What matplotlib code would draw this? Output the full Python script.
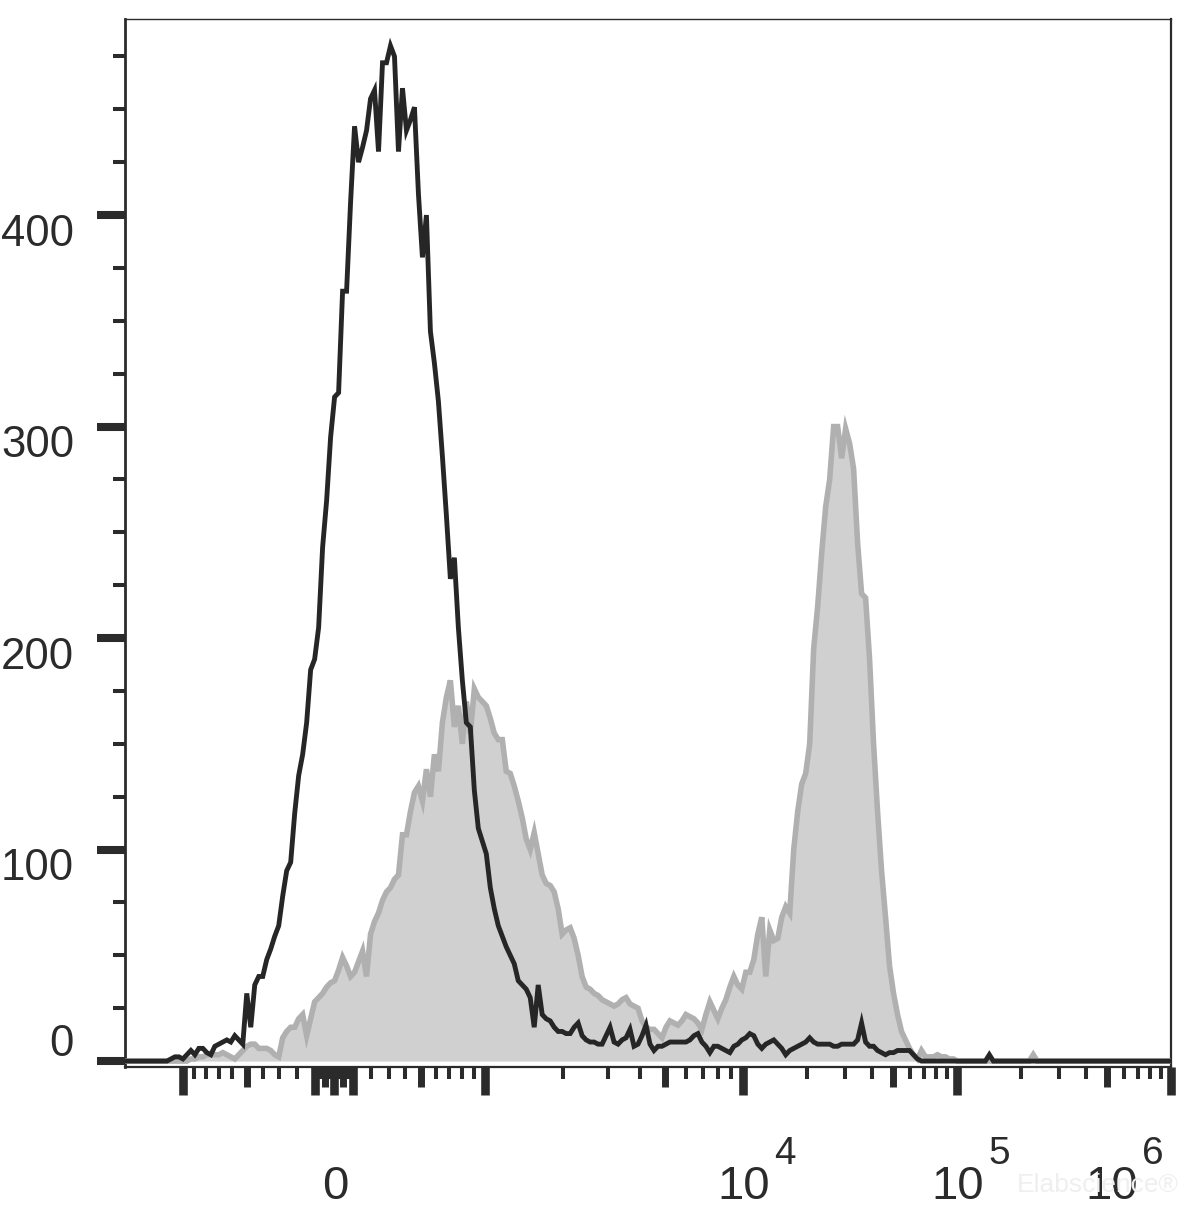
import numpy as np
import matplotlib
matplotlib.use("Agg")
import matplotlib.pyplot as plt
from matplotlib import markers

# ---------------- data (histogram counts per biexponential channel bin) ----------------
N_BINS = 262
X_MIN, X_MAX = -1678.0, 1.0e6
Y_MIN, Y_MAX = -2.8, 492.7

black_counts = [
    0, 0, 0, 0, 0, 0, 0, 0, 0, 0,
    0, 1, 2, 2, 1, 3, 5, 3, 6, 6,
    4, 3, 7, 8, 9, 10, 9, 12, 10, 8,
    32, 16, 36, 40, 40, 48, 53, 59, 64, 78,
    90, 94, 117, 135, 145, 160, 185, 190, 205, 243,
    265, 295, 314, 316, 364, 364, 406, 442, 425, 432,
    440, 455, 459, 430, 472, 472, 480, 475, 430, 460,
    440, 445, 451, 410, 380, 400, 345, 330, 312, 286,
    258, 228, 238, 205, 180, 160, 158, 128, 110, 104,
    98, 82, 72, 64, 59, 54, 50, 46, 38, 36,
    34, 30, 16, 36, 22, 20, 19, 16, 14, 14,
    13, 13, 16, 18, 12, 10, 9, 9, 8, 8,
    12, 16, 9, 8, 10, 11, 15, 7, 8, 12,
    17, 8, 5, 7, 7, 8, 9, 9, 9, 9,
    9, 10, 12, 13, 9, 7, 4, 7, 7, 6,
    5, 4, 7, 8, 10, 11, 13, 12, 8, 6,
    8, 9, 10, 8, 6, 3, 5, 6, 7, 8,
    9, 11, 9, 8, 8, 8, 8, 7, 7, 8,
    8, 8, 8, 10, 18, 9, 7, 7, 5, 4,
    3, 4, 4, 5, 5, 5, 5, 3, 1, 0,
    0, 0, 0, 0, 0, 0, 0, 0, 0, 0,
    0, 0, 0, 0, 0, 0, 3, 0, 0, 0,
    0, 0, 0, 0, 0, 0, 0, 0, 0, 0,
    0, 0, 0, 0, 0, 0, 0, 0, 0, 0,
    0, 0, 0, 0, 0, 0, 0, 0, 0, 0,
    0, 0, 0, 0, 0, 0, 0, 0, 0, 0,
    0, 0,
]
gray_counts = [
    0, 0, 0, 0, 0, 0, 0, 0, 0, 0,
    0, 0, 0, 0, 0, 0, 1, 1, 2, 2,
    3, 3, 3, 3, 4, 3, 2, 1, 3, 5,
    7, 8, 8, 6, 6, 6, 5, 3, 2, 11,
    14, 16, 16, 20, 22, 12, 20, 28, 30, 32,
    35, 37, 38, 43, 49, 45, 40, 42, 47, 52,
    40, 60, 66, 70, 76, 80, 82, 86, 88, 107,
    107, 118, 127, 130, 123, 138, 125, 145, 137, 160,
    172, 180, 158, 168, 150, 170, 155, 176, 172, 170,
    168, 162, 155, 152, 152, 137, 136, 130, 123, 115,
    105, 100, 108, 98, 88, 84, 83, 80, 72, 60,
    62, 63, 58, 50, 40, 35, 34, 32, 31, 29,
    28, 27, 26, 27, 29, 30, 27, 26, 25, 19,
    16, 15, 15, 13, 11, 16, 19, 18, 17, 19,
    22, 21, 20, 18, 15, 22, 28, 24, 20, 25,
    29, 35, 40, 36, 34, 42, 42, 48, 60, 68,
    40, 62, 57, 58, 68, 73, 70, 100, 118, 131,
    136, 150, 195, 215, 240, 262, 275, 300, 300, 285,
    299, 292, 280, 245, 221, 219, 190, 150, 118, 90,
    68, 45, 32, 22, 14, 10, 6, 3, 1, 5,
    2, 2, 2, 3, 2, 2, 1, 1, 0, 0,
    0, 0, 0, 0, 0, 0, 0, 0, 0, 0,
    0, 0, 0, 0, 0, 0, 0, 3, 0, 0,
    0, 0, 0, 0, 0, 0, 0, 0, 0, 0,
    0, 0, 0, 0, 0, 0, 0, 0, 0, 0,
    0, 0, 0, 0, 0, 0, 0, 0, 0, 0,
    0, 0,
]

y_major = [0, 100, 200, 300, 400]
y_labels = ["0", "100", "200", "300", "400"]
y_minor = [v for v in range(25, 491, 25) if v % 100 != 0]

x_long = [-1e3, -100, 0, 100, 1e3, 1e4, 1e5, 1e6]
x_medium = [-500, -50, 50, 500, 5e3, 5e4, 5e5]
x_minor = ([s * v for s in (1, -1) for v in (200, 300, 400, 600, 700, 800, 900)]
           + [s * v for s in (1, -1) for v in (10, 20, 30, 40, 60, 70, 80, 90)]
           + [m * 10 ** e for e in (3, 4, 5) for m in (2, 3, 4, 6, 7, 8, 9)])
x_label_vals = [0, 1e4, 1e5, 1e6]
x_label_exps = [None, "4", "5", "6"]

# ---------------- biexponential-like display transform ----------------
A_LIN, W_LIN = 129.5, 690.0
D0 = A_LIN * np.arcsinh(1e3 / W_LIN)
D1, D2 = 258.0, 214.0


def fwd(v):
    v = np.asarray(v, dtype=float)
    with np.errstate(all="ignore"):
        s = np.sign(v)
        m = np.abs(v)
        mm = np.maximum(m, 1e-12)
        out = np.where(m <= 1e3, A_LIN * np.arcsinh(m / W_LIN),
                       np.where(m <= 1e4, D0 + D1 * np.log10(mm / 1e3),
                                D0 + D1 + D2 * np.log10(mm / 1e4)))
    return s * out


def inv(d):
    d = np.asarray(d, dtype=float)
    with np.errstate(all="ignore"):
        s = np.sign(d)
        m = np.abs(d)
        mc = np.minimum(m, 5000)
        out = np.where(m <= D0, W_LIN * np.sinh(np.minimum(m, 2000) / A_LIN),
                       np.where(m <= D0 + D1, 1e3 * 10 ** ((mc - D0) / D1),
                                1e4 * 10 ** ((mc - D0 - D1) / D2)))
    return s * out


d_lo, d_hi = float(fwd(X_MIN)), float(fwd(X_MAX))
edges = np.linspace(d_lo, d_hi, N_BINS + 1)
x_centers = inv(0.5 * (edges[:-1] + edges[1:]))

# ---------------- style ----------------
FONT = "Liberation Sans"
FS_Y = 31.5
FS_X = 34
INK = "#2b2b2b"

fig = plt.figure(figsize=(12, 12.23), dpi=100)
ax = fig.add_axes([125 / 1200, 156 / 1223, 1046 / 1200, 1048 / 1223])
ax.set_xscale("function", functions=(fwd, inv))
ax.set_xlim(X_MIN, X_MAX)
ax.set_ylim(Y_MIN, Y_MAX)

# histograms
g = np.array(gray_counts, dtype=float)
b = np.array(black_counts, dtype=float)
ax.fill_between(x_centers, g, 0, color="#d0d0d0", lw=0, zorder=2)
ax.plot(x_centers, g, color="#b0b0b0", lw=4.0, zorder=3, solid_joinstyle="miter")
ax.plot(x_centers, b, color="#262626", lw=3.5, zorder=4, solid_joinstyle="miter")

# spines
for side, lw in (("left", 2.0), ("top", 1.0), ("right", 1.6), ("bottom", 1.6)):
    ax.spines[side].set_color(INK)
    ax.spines[side].set_linewidth(lw)

# y ticks
ax.set_yticks(y_major)
ax.set_yticks(y_minor, minor=True)
ax.set_yticklabels([])
ax.tick_params(axis="y", which="major", direction="out", length=20, width=5.8, color=INK)
ax.tick_params(axis="y", which="minor", direction="out", length=8.6, width=2.9, color=INK)
for val, lab in zip(y_major, y_labels):
    dy = 17 if val == 0 else -19
    ax.annotate(lab, xy=(0, val), xycoords=ax.get_yaxis_transform(),
                xytext=(-51 * 0.72, dy * 0.72), textcoords="offset points",
                ha="right", va="center", fontsize=FS_Y, family=FONT, color=INK,
                annotation_clip=False)

# x ticks
ax.set_xticks(x_long)
ax.set_xticks(x_minor, minor=True)
ax.set_xticklabels([])
ax.tick_params(axis="x", which="major", direction="out", length=20, width=6.2, color=INK)
ax.tick_params(axis="x", which="minor", direction="out", length=8.6, width=2.9, color=INK)
ax.plot(x_medium, np.zeros(len(x_medium)), transform=ax.get_xaxis_transform(),
        linestyle="none", marker=markers.TICKDOWN, markersize=14.4,
        markeredgewidth=5.0, color=INK, clip_on=False, zorder=5)

# x labels
for val, ex in zip(x_label_vals, x_label_exps):
    shift = -59 if val == 1e6 else 1
    base = "0" if ex is None else "10"
    ax.annotate(base, xy=(val, 0), xycoords=ax.get_xaxis_transform(),
                xytext=(shift * 0.72, -120 * 0.72), textcoords="offset points",
                ha="center", va="center", fontsize=FS_X, family=FONT, color=INK,
                annotation_clip=False)
    if ex is not None:
        ax.annotate(ex, xy=(val, 0), xycoords=ax.get_xaxis_transform(),
                    xytext=((shift + 30) * 0.72, -87 * 0.72), textcoords="offset points",
                    ha="left", va="center", fontsize=FS_X * 0.82, family=FONT, color=INK,
                    annotation_clip=False)

# faint watermark (as in the reference, under the 10^6 label)
fig.text(1017 / 1200, 1 - 1185 / 1223, "Elabscience\u00ae", fontsize=19,
         family="Liberation Sans", color="#efefef", ha="left", va="center", zorder=0)

fig.savefig("out.png", dpi=100)
